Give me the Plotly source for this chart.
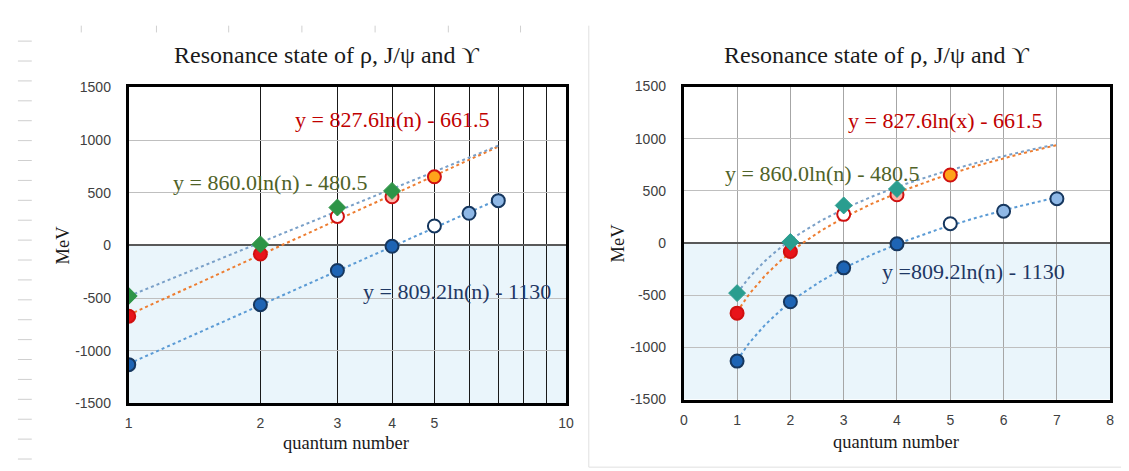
import numpy as np
import plotly.graph_objects as go

# ---------------- data ----------------
n_upsilon = [1, 2, 3, 4, 5, 6, 7]
e_upsilon = [-1132, -563, -238, -8, 185, 305, 425]
n_jpsi = [1, 2, 3, 4, 5]
e_jpsi = [-672, -82, 275, 462, 652]
n_rho = [1, 2, 3, 4]
e_rho = [-480, 10, 360, 518]

eq_upsilon = "y = 809.2ln(n) - 1130"
eq_upsilon_r = "y =809.2ln(n) - 1130"
eq_jpsi_l = "y = 827.6ln(n) - 661.5"
eq_jpsi_r = "y = 827.6ln(x) - 661.5"
eq_rho = "y = 860.0ln(n) - 480.5"
title_text = "Resonance state of ρ, J/ψ and ϒ"
x_title = "quantum number"
y_title = "MeV"

left_xticks = [1, 2, 3, 4, 5, 6, 7, 8, 9, 10]
left_xticktext = ["1", "2", "3", "4", "5", "", "", "", "", "10"]
right_xticks = [0, 1, 2, 3, 4, 5, 6, 7, 8]
y_ticks = [-1500, -1000, -500, 0, 500, 1000, 1500]
y_ticktext = ["-1500", "-1000", "-500", "0", "500", "1000", "1500"]
trend_end = 7

# ---------------- styles ----------------
W, H = 1129, 471
SERIF = "Liberation Serif"
SANS = "Liberation Sans"
TICKFONT = dict(family=SANS, size=14, color="#404040")

ups_fill = ["#1e64b4", "#1e64b4", "#1e64b4", "#1e64b4", "#ffffff", "#8fb8e6", "#8fb8e6"]
ups_line = "#16375f"
jpsi_fill = ["#e8141a", "#e8141a", "#ffffff", "#ffb4a8", "#ffa31a"]
jpsi_line = "#d01010"
rho_col_l = "#2e9447"
rho_col_r = "#2a9d8f"

trend_ups = "#5b9bd5"
trend_jpsi = "#ed7d31"
trend_rho = "#7aa0c8"


def px_x(p):
    return p / W


def px_y(p):
    return 1 - p / H


def fit(nv, ev):
    b, a = np.polyfit(np.log(np.array(nv, float)), np.array(ev, float), 1)
    return b, a


fig = go.Figure()

L_dom_x = [px_x(118), px_x(560)]
L_dom_y = [px_y(401), px_y(74)]
R_dom_x = [px_x(679), px_x(1110)]
R_dom_y = [px_y(397), px_y(73)]

ngrid = np.linspace(1, trend_end, 120)

for side, xa, ya in [("L", "x", "y"), ("R", "x2", "y2")]:
    for nv, ev, col in [(n_upsilon, e_upsilon, trend_ups),
                        (n_jpsi, e_jpsi, trend_jpsi),
                        (n_rho, e_rho, trend_rho)]:
        b, a = fit(nv, ev)
        fig.add_trace(go.Scatter(x=ngrid, y=b * np.log(ngrid) + a, mode="lines",
                                 line=dict(color=col, width=2, dash="dot"),
                                 xaxis=xa, yaxis=ya, showlegend=False, hoverinfo="skip"))
    fig.add_trace(go.Scatter(x=n_upsilon, y=e_upsilon, mode="markers",
                             marker=dict(size=13, color=ups_fill,
                                         line=dict(color=ups_line, width=2)),
                             xaxis=xa, yaxis=ya, showlegend=False))
    fig.add_trace(go.Scatter(x=n_jpsi, y=e_jpsi, mode="markers",
                             marker=dict(size=13, color=jpsi_fill,
                                         line=dict(color=jpsi_line, width=2)),
                             xaxis=xa, yaxis=ya, showlegend=False))
    rc = rho_col_l if side == "L" else rho_col_r
    fig.add_trace(go.Scatter(x=n_rho, y=e_rho, mode="markers",
                             marker=dict(size=13, symbol="diamond", color=rc,
                                         line=dict(color=rc, width=1)),
                             xaxis=xa, yaxis=ya, showlegend=False))

yaxis_common = dict(range=[-1500, 1500], tickvals=y_ticks, ticktext=y_ticktext,
                    showgrid=True, gridcolor="#bfbfbf", gridwidth=1,
                    zeroline=True, zerolinecolor="#595959", zerolinewidth=2,
                    showline=True, linecolor="black", linewidth=3, mirror=True,
                    ticks="", tickfont=TICKFONT, ticklabelstandoff=12,
                    fixedrange=True)

fig.update_layout(
    width=W, height=H,
    margin=dict(l=0, r=0, t=0, b=0),
    paper_bgcolor="white", plot_bgcolor="rgba(0,0,0,0)",
    xaxis=dict(type="log", domain=L_dom_x, range=[0, 1], anchor="y",
               tickvals=left_xticks, ticktext=left_xticktext,
               showgrid=True, gridcolor="#1a1a1a", gridwidth=1,
               showline=True, linecolor="black", linewidth=3, mirror=True,
               ticks="", tickfont=TICKFONT, ticklabelstandoff=5),
    yaxis=dict(domain=L_dom_y, anchor="x", **yaxis_common),
    xaxis2=dict(domain=R_dom_x, range=[0, 8], tickvals=right_xticks, anchor="y2",
                showgrid=True, gridcolor="#a6a6a6", gridwidth=1, zeroline=False,
                showline=True, linecolor="black", linewidth=3, mirror=True,
                ticks="", tickfont=TICKFONT, ticklabelstandoff=6),
    yaxis2=dict(domain=R_dom_y, anchor="x2", **yaxis_common),
)

shapes = []
for xr, yr in [("x domain", "y"), ("x2 domain", "y2")]:
    shapes.append(dict(type="rect", xref=xr, yref=yr, x0=0, x1=1, y0=-1500, y1=0,
                       fillcolor="#eaf5fb", line=dict(width=0), layer="below"))
for k in range(22):
    yy = 26 + 20.6 * k
    shapes.append(dict(type="line", xref="paper", yref="paper",
                       x0=px_x(6), x1=px_x(20), y0=px_y(yy), y1=px_y(yy),
                       line=dict(color="#cfcfcf", width=1)))
for xx in [70, 146, 219, 293, 367, 441, 514]:
    shapes.append(dict(type="line", xref="paper", yref="paper",
                       x0=px_x(xx), x1=px_x(xx), y0=px_y(10), y1=px_y(17),
                       line=dict(color="#d0d0d0", width=1)))
shapes.append(dict(type="line", xref="paper", yref="paper",
                   x0=px_x(583), x1=px_x(583), y0=px_y(10), y1=px_y(467),
                   line=dict(color="#e0e0e0", width=1)))
shapes.append(dict(type="line", xref="paper", yref="paper",
                   x0=px_x(583), x1=1, y0=px_y(467), y1=px_y(467),
                   line=dict(color="#e0e0e0", width=1)))
fig.update_layout(shapes=shapes)

ann = []


def txt(x, y, s, size, color, angle=0):
    ann.append(dict(x=px_x(x), y=px_y(y), xref="paper", yref="paper", text=s,
                    showarrow=False, xanchor="center", yanchor="middle", textangle=angle,
                    font=dict(family=SERIF, size=size, color=color)))


txt(318, 40, title_text, 24, "#1a1a1a")
txt(874, 40, title_text, 24, "#1a1a1a")
txt(338, 442, x_title, 18.5, "#1a1a1a")
txt(894, 441, x_title, 18.5, "#1a1a1a")
txt(52, 237, y_title, 18.5, "#1a1a1a", -90)
txt(613, 235, y_title, 18.5, "#1a1a1a", -90)
txt(385, 107, eq_jpsi_l, 22, "#c00000")
txt(261, 172, eq_rho, 22, "#4f6228")
txt(450, 285, eq_upsilon, 22, "#1f3864")
txt(944, 108, eq_jpsi_r, 22, "#c00000")
txt(819, 163, eq_rho, 22, "#4f6228")
txt(972, 265, eq_upsilon_r, 22, "#1f3864")
fig.update_layout(annotations=ann)

fig.write_html("out.html")
